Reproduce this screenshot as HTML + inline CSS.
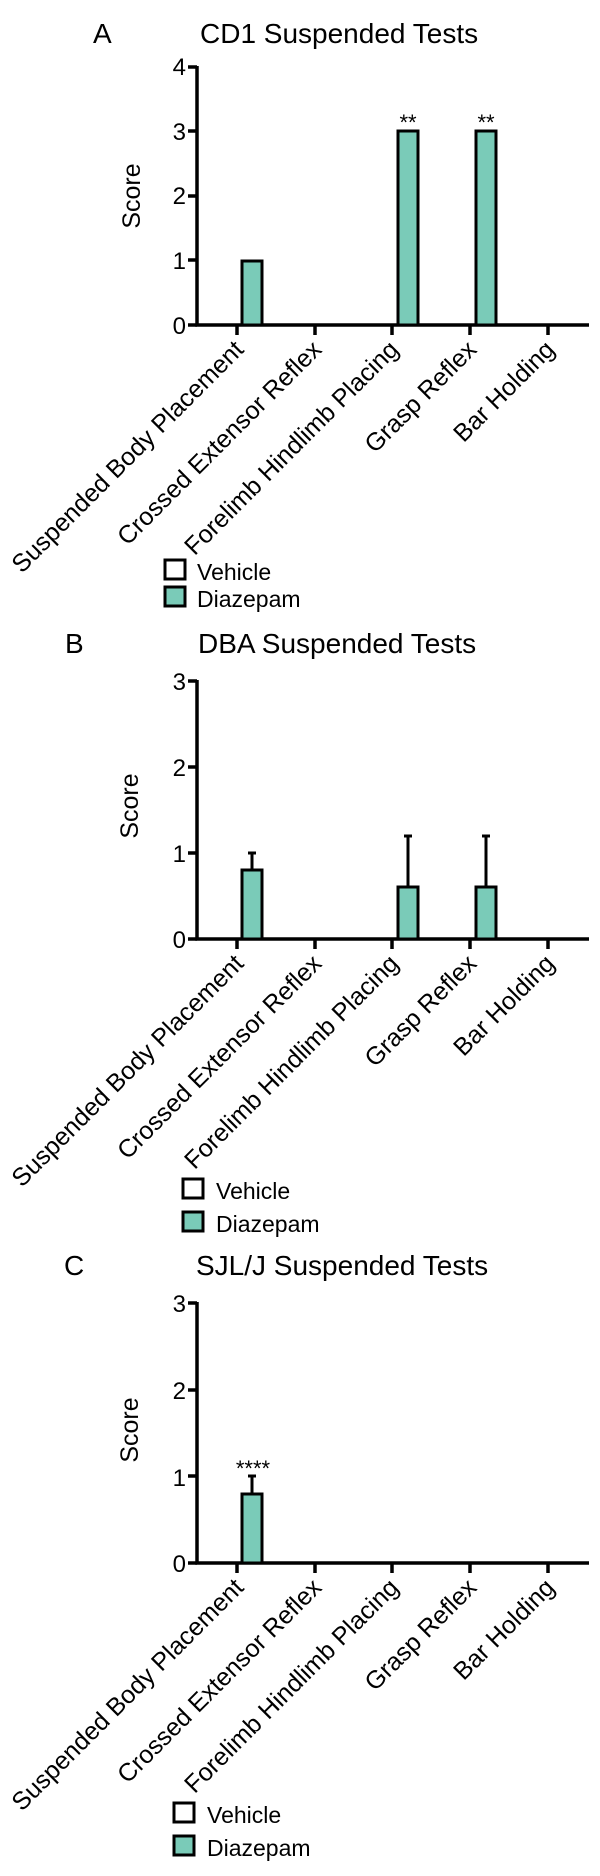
<!DOCTYPE html>
<html><head><meta charset="utf-8"><style>
html,body{margin:0;padding:0;background:#fff;}
svg{display:block;font-family:"Liberation Sans",Arial,sans-serif;}
</style></head><body>
<svg width="600" height="1876" viewBox="0 0 600 1876" xmlns="http://www.w3.org/2000/svg">
<g fill="#000">
<!-- Panel A -->
<text x="93" y="43" font-size="28">A</text>
<text x="200" y="43" font-size="28">CD1 Suspended Tests</text>
<text transform="translate(140,196) rotate(-90)" font-size="25" text-anchor="middle">Score</text>
<g font-size="24" text-anchor="end">
<text x="186" y="75">4</text><text x="186" y="140">3</text><text x="186" y="204">2</text><text x="186" y="269">1</text><text x="186" y="334">0</text>
</g>
<g stroke="#000" stroke-width="3.5" fill="none">
<path d="M197,66 V325 H589"/>
<path d="M188,67H197M188,131H197M188,196H197M188,260H197M188,325H197"/>
<path d="M237,325v10M315,325v10M392,325v10M470,325v10M548,325v10"/>
</g>
<g fill="#7acbb8" stroke="#000" stroke-width="3">
<rect x="242" y="261" width="20" height="64"/>
<rect x="398" y="131" width="20" height="194"/>
<rect x="476" y="131" width="20" height="194"/>
</g>
<g font-size="22" text-anchor="middle"><text x="408" y="130">**</text><text x="486" y="130">**</text></g>
<g font-size="25" text-anchor="end">
<text transform="translate(245,351) rotate(-45)">Suspended Body Placement</text>
<text transform="translate(323,351) rotate(-45)">Crossed Extensor Reflex</text>
<text transform="translate(400,351) rotate(-45)">Forelimb Hindlimb Placing</text>
<text transform="translate(478,351) rotate(-45)">Grasp Reflex</text>
<text transform="translate(556,351) rotate(-45)">Bar Holding</text>
</g>
<rect x="165" y="560" width="20" height="19" fill="#fff" stroke="#000" stroke-width="3"/>
<rect x="165" y="587" width="20" height="19" fill="#7acbb8" stroke="#000" stroke-width="3"/>
<text x="197" y="580" font-size="23">Vehicle</text>
<text x="197" y="607" font-size="23">Diazepam</text>

<!-- Panel B -->
<text x="65" y="653" font-size="28">B</text>
<text x="198" y="653" font-size="28">DBA Suspended Tests</text>
<text transform="translate(138,806) rotate(-90)" font-size="25" text-anchor="middle">Score</text>
<g font-size="24" text-anchor="end">
<text x="186" y="690">3</text><text x="186" y="776">2</text><text x="186" y="862">1</text><text x="186" y="948">0</text>
</g>
<g stroke="#000" stroke-width="3.5" fill="none">
<path d="M197,680 V939 H589"/>
<path d="M188,681H197M188,767H197M188,853H197M188,939H197"/>
<path d="M237,939v10M315,939v10M392,939v10M470,939v10M548,939v10"/>
<path d="M252,870V853M248,853h8M408,887V836M404,836h8M486,887V836M482,836h8" stroke-width="3"/>
</g>
<g fill="#7acbb8" stroke="#000" stroke-width="3">
<rect x="242" y="870" width="20" height="69"/>
<rect x="398" y="887" width="20" height="52"/>
<rect x="476" y="887" width="20" height="52"/>
</g>
<g font-size="25" text-anchor="end">
<text transform="translate(245,965) rotate(-45)">Suspended Body Placement</text>
<text transform="translate(323,965) rotate(-45)">Crossed Extensor Reflex</text>
<text transform="translate(400,965) rotate(-45)">Forelimb Hindlimb Placing</text>
<text transform="translate(478,965) rotate(-45)">Grasp Reflex</text>
<text transform="translate(556,965) rotate(-45)">Bar Holding</text>
</g>
<rect x="183" y="1179" width="20" height="19" fill="#fff" stroke="#000" stroke-width="3"/>
<rect x="183" y="1212" width="20" height="19" fill="#7acbb8" stroke="#000" stroke-width="3"/>
<text x="216" y="1199" font-size="23">Vehicle</text>
<text x="216" y="1232" font-size="23">Diazepam</text>

<!-- Panel C -->
<text x="64" y="1275" font-size="28">C</text>
<text x="196" y="1275" font-size="28">SJL/J Suspended Tests</text>
<text transform="translate(138,1430) rotate(-90)" font-size="25" text-anchor="middle">Score</text>
<g font-size="24" text-anchor="end">
<text x="186" y="1312">3</text><text x="186" y="1399">2</text><text x="186" y="1486">1</text><text x="186" y="1572">0</text>
</g>
<g stroke="#000" stroke-width="3.5" fill="none">
<path d="M197,1302 V1563 H589"/>
<path d="M188,1303H197M188,1390H197M188,1476H197M188,1563H197"/>
<path d="M237,1563v10M315,1563v10M392,1563v10M470,1563v10M548,1563v10"/>
<path d="M252,1494V1476M248,1476h8" stroke-width="3"/>
</g>
<rect x="242" y="1494" width="20" height="69" fill="#7acbb8" stroke="#000" stroke-width="3"/>
<text x="253" y="1476" font-size="22" text-anchor="middle">****</text>
<g font-size="25" text-anchor="end">
<text transform="translate(245,1589) rotate(-45)">Suspended Body Placement</text>
<text transform="translate(323,1589) rotate(-45)">Crossed Extensor Reflex</text>
<text transform="translate(400,1589) rotate(-45)">Forelimb Hindlimb Placing</text>
<text transform="translate(478,1589) rotate(-45)">Grasp Reflex</text>
<text transform="translate(556,1589) rotate(-45)">Bar Holding</text>
</g>
<rect x="174" y="1803" width="20" height="19" fill="#fff" stroke="#000" stroke-width="3"/>
<rect x="174" y="1836" width="20" height="19" fill="#7acbb8" stroke="#000" stroke-width="3"/>
<text x="207" y="1823" font-size="23">Vehicle</text>
<text x="207" y="1856" font-size="23">Diazepam</text>
</g>
</svg>
</body></html>
